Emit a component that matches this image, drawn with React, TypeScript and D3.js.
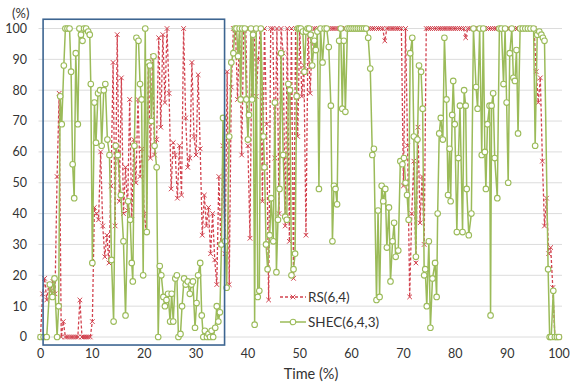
import React, { useEffect, useRef } from 'react';
import * as d3 from 'd3';

const xTicks = [0, 10, 20, 30, 40, 50, 60, 70, 80, 90, 100];
const yTicks = [0, 10, 20, 30, 40, 50, 60, 70, 80, 90, 100];

// RS(6,4): sampled every 0.4 % of time
const rsStep = 0.4;
const rsValues = [
  0, 14, 19, 12, 17, 15, 18, 14, 52, 79,
  0, 5, 0, 0, 0, 0, 0, 0, 0, 12,
  0, 0, 0, 0, 0, 5, 42, 40, 38, 60,
  36, 26, 33, 24, 49, 89, 36, 98, 44, 84,
  40, 55, 41, 77, 38, 64, 50, 77, 52, 61,
  40, 34, 89, 58, 91, 59, 64, 97, 68, 98,
  76, 100, 79, 48, 63, 59, 45, 62, 46, 100,
  71, 55, 58, 89, 65, 59, 85, 61, 33, 46,
  36, 42, 27, 40, 25, 17, 52, 30, 62, 27,
  86, 17, 81, 100, 100, 77, 100, 59, 100, 100,
  62, 32, 100, 100, 78, 90, 100, 44, 100, 69,
  12, 100, 100, 58, 100, 40, 100, 92, 36, 100,
  31, 100, 19, 100, 65, 100, 78, 88, 33, 100,
  79, 96, 100, 100, 100, 100, 100, 100, 100, 100,
  100, 100, 100, 100, 100, 100, 100, 100, 100, 100,
  100, 100, 100, 100, 100, 100, 100, 100, 100, 100,
  100, 100, 100, 100, 100, 100, 96, 100, 100, 100,
  100, 100, 100, 100, 100, 49, 100, 62, 13, 40,
  57, 24, 68, 37, 52, 30, 100, 100, 100, 100,
  100, 100, 100, 100, 100, 100, 100, 100, 100, 100,
  100, 100, 100, 100, 100, 97, 100, 100, 100, 100,
  100, 100, 100, 100, 100, 100, 100, 100, 100, 100,
  100, 100, 100, 100, 100, 100, 100, 100, 100, 100,
  100, 100, 100, 100, 100, 100, 100, 100, 100, 86,
  76, 84, 57, 36, 45, 27, 29, 16, 0, 0,
  0,
];

// SHEC(6,4,3): [time %, value %]
const shecPoints: [number, number][] = [
  [0, 0], [0.6, 0], [1.2, 0], [1.8, 17], [2.3, 13], [2.7, 19], [3.2, 0], [3.5, 10], [3.8, 78], [4.1, 69],
  [4.5, 88], [4.8, 100], [5.2, 100], [5.6, 100], [5.9, 86], [6.2, 56], [6.5, 45], [6.8, 92], [7.2, 69], [7.5, 100],
  [7.8, 98], [8.1, 96], [8.4, 100], [8.8, 100], [9.2, 99], [9.5, 98], [9.7, 82], [10.0, 24], [10.4, 76], [10.7, 63],
  [11.1, 79], [11.5, 80], [11.8, 62], [12.2, 80], [12.5, 82], [12.9, 64], [13.3, 59], [13.7, 25], [14.1, 5], [14.5, 62],
  [14.9, 59], [15.5, 46], [16.0, 31], [16.4, 7], [16.9, 44], [17.3, 38], [17.6, 24], [17.8, 18], [18.1, 62], [18.5, 97],
  [18.9, 96], [19.2, 82], [19.5, 77], [19.8, 20], [20.2, 100], [20.5, 34], [20.8, 89], [21.1, 88], [21.4, 70], [21.8, 91],
  [22.0, 62], [22.4, 55], [22.7, 0], [23.0, 23], [23.3, 20], [23.7, 13], [24.0, 10], [24.3, 12], [24.6, 14], [25.0, 5],
  [25.3, 14], [25.6, 5], [26.0, 19], [26.3, 20], [26.6, 0], [27.0, 1], [27.3, 10], [27.7, 19], [28.0, 17], [28.4, 18],
  [28.8, 14], [29.1, 17], [29.4, 18], [29.8, 3], [30.1, 11], [30.4, 20], [30.8, 24], [31.1, 7], [31.4, 0], [31.7, 2],
  [32.1, 0], [32.4, 1], [32.7, 0], [33.0, 2], [33.3, 0], [33.7, 3], [34.0, 10], [34.3, 5], [34.6, 8], [34.9, 30],
  [35.2, 71], [35.6, 31], [35.9, 16], [36.4, 65], [36.8, 89], [37.2, 92], [37.5, 100], [37.8, 100], [38.1, 91], [38.4, 100],
  [38.6, 77], [38.9, 100], [39.4, 100], [39.7, 77], [40.0, 64], [40.2, 72], [40.6, 100], [40.8, 77], [41.0, 98], [41.3, 4],
  [41.6, 100], [41.9, 13], [42.2, 15], [42.5, 100], [43.0, 65], [43.2, 55], [43.5, 30], [43.8, 22], [44.2, 33], [44.5, 45],
  [44.9, 31], [45.2, 76], [45.5, 21], [45.8, 38], [46.1, 48], [46.4, 92], [46.8, 59], [47.2, 39], [47.5, 38], [47.8, 82],
  [48.1, 80], [48.4, 20], [48.8, 22], [49.1, 27], [49.4, 78], [49.6, 100], [49.9, 100], [50.2, 100], [50.6, 99], [50.9, 86],
  [51.2, 99], [51.5, 100], [51.8, 100], [52.1, 98], [52.4, 88], [52.8, 96], [53.1, 93], [53.4, 99], [53.7, 48], [54.0, 100],
  [54.4, 89], [54.8, 100], [55.2, 100], [55.6, 94], [56.0, 75], [56.3, 31], [56.6, 49], [56.9, 48], [57.2, 43], [57.6, 96],
  [57.9, 100], [58.2, 74], [58.5, 96], [58.8, 73], [59.2, 100], [59.6, 100], [60.0, 100], [60.4, 100], [60.8, 100], [61.2, 100],
  [61.6, 100], [62.0, 100], [62.4, 100], [62.8, 100], [63.2, 97], [63.6, 87], [64.0, 59], [64.3, 61], [64.8, 12], [65.1, 41],
  [65.4, 13], [65.8, 49], [66.1, 44], [66.5, 48], [66.8, 29], [67.2, 42], [67.5, 18], [67.9, 31], [68.2, 37], [68.5, 26],
  [69.0, 28], [69.4, 57], [69.8, 56], [70.1, 58], [70.4, 50], [70.7, 46], [71.0, 38], [71.3, 92], [71.7, 97], [72.0, 65],
  [72.4, 26], [72.7, 64], [73.0, 88], [73.4, 86], [73.7, 74], [74.0, 20], [74.2, 22], [74.5, 10], [74.9, 31], [75.2, 3],
  [75.6, 19], [76.1, 24], [76.4, 13], [76.6, 40], [76.9, 66], [77.2, 71], [77.6, 64], [77.9, 97], [78.3, 77], [78.6, 46],
  [78.9, 61], [79.1, 44], [79.4, 72], [79.6, 83], [79.9, 69], [80.3, 34], [80.6, 58], [80.9, 75], [81.4, 34], [81.7, 80],
  [82.0, 75], [82.2, 48], [82.6, 33], [83.1, 40], [83.5, 100], [84.0, 81], [84.3, 74], [84.7, 100], [85.1, 59], [85.4, 100],
  [85.7, 60], [85.9, 48], [86.2, 69], [86.6, 75], [86.8, 7], [87.0, 75], [87.3, 79], [87.6, 58], [88.1, 45], [88.5, 100],
  [88.9, 100], [89.3, 82], [89.6, 100], [89.9, 76], [90.2, 50], [90.5, 92], [90.9, 100], [91.2, 84], [91.5, 83], [91.8, 93],
  [92.1, 66], [92.5, 100], [93.0, 100], [93.5, 100], [94.0, 100], [94.5, 100], [95.1, 100], [95.4, 62], [95.8, 98], [96.2, 99],
  [96.6, 98], [96.9, 97], [97.2, 96], [97.9, 22], [98.2, 0], [98.5, 0], [98.9, 15], [99.2, 0], [99.6, 0], [100, 0],
];

const legendLabels = ['RS(6,4)', 'SHEC(6,4,3)'];

const RED = '#d2434f';
const GREEN = '#9bbb59';
const FONT = 'Lato, "Open Sans", sans-serif';

const App = () => {
  const chartRef = useRef<SVGSVGElement>(null);

  useEffect(() => {
    const svg = d3.select(chartRef.current);
    svg.selectAll('*').remove();

    const x = d3.scaleLinear().domain([0, 100]).range([40.5, 559]);
    const y = d3.scaleLinear().domain([0, 100]).range([337, 28.5]);

    // gridlines
    svg.append('g')
      .selectAll('line')
      .data(yTicks)
      .join('line')
      .attr('x1', x(0) - 2)
      .attr('x2', x(100) + 3)
      .attr('y1', d => y(d))
      .attr('y2', d => y(d))
      .attr('stroke', '#dcdcdc')
      .attr('stroke-width', 1);

    // y labels
    svg.append('g')
      .selectAll('text')
      .data(yTicks)
      .join('text')
      .attr('x', 27)
      .attr('y', d => y(d))
      .attr('dy', '0.35em')
      .attr('text-anchor', 'end')
      .attr('font-family', FONT)
      .attr('font-size', 12.5)
      .attr('fill', '#333')
      .text(d => d);

    svg.append('text')
      .attr('x', 12)
      .attr('y', 18)
      .attr('font-family', FONT)
      .attr('font-size', 13)
      .attr('fill', '#333')
      .text('(%)');

    // x labels
    svg.append('g')
      .selectAll('text')
      .data(xTicks)
      .join('text')
      .attr('x', d => x(d))
      .attr('y', 354)
      .attr('dy', '0.35em')
      .attr('text-anchor', 'middle')
      .attr('font-family', FONT)
      .attr('font-size', 12.5)
      .attr('fill', '#333')
      .text(d => d);

    svg.append('text')
      .attr('x', 311)
      .attr('y', 374)
      .attr('dy', '0.35em')
      .attr('text-anchor', 'middle')
      .attr('font-family', FONT)
      .attr('font-size', 14.5)
      .attr('fill', '#333')
      .text('Time (%)');

    const line = d3.line<[number, number]>()
      .x(d => x(d[0]))
      .y(d => y(d[1]));

    const cross = 'M-2.3,-2.3L2.3,2.3M-2.3,2.3L2.3,-2.3';

    // RS(6,4)
    const rsData: [number, number][] = rsValues.map((v, i) => [i * rsStep, v]);
    svg.append('path')
      .datum(rsData)
      .attr('fill', 'none')
      .attr('stroke', RED)
      .attr('stroke-width', 1.3)
      .attr('stroke-dasharray', '3,2')
      .attr('d', line);
    svg.append('g')
      .selectAll('path')
      .data(rsData)
      .join('path')
      .attr('transform', d => `translate(${x(d[0])},${y(d[1])})`)
      .attr('d', cross)
      .attr('stroke', RED)
      .attr('stroke-width', 1);

    // SHEC(6,4,3)
    svg.append('path')
      .datum(shecPoints)
      .attr('fill', 'none')
      .attr('stroke', GREEN)
      .attr('stroke-width', 1.5)
      .attr('d', line);
    svg.append('g')
      .selectAll('circle')
      .data(shecPoints)
      .join('circle')
      .attr('cx', d => x(d[0]))
      .attr('cy', d => y(d[1]))
      .attr('r', 2.8)
      .attr('fill', '#fff')
      .attr('stroke', GREEN)
      .attr('stroke-width', 1.1);

    // highlighted region
    svg.append('rect')
      .attr('x', x(0.5))
      .attr('y', y(103))
      .attr('width', x(35.5) - x(0.5))
      .attr('height', y(-2.6) - y(103))
      .attr('fill', 'none')
      .attr('stroke', '#3d6591')
      .attr('stroke-width', 1.6);

    // legend
    const legend = svg.append('g').attr('transform', 'translate(280,297)');
    legendLabels.forEach((label, i) => {
      const g = legend.append('g').attr('transform', `translate(0,${i * 25})`);
      if (i === 0) {
        g.append('line')
          .attr('x1', 0).attr('x2', 26).attr('y1', 0).attr('y2', 0)
          .attr('stroke', RED).attr('stroke-width', 1.3).attr('stroke-dasharray', '3,2');
        g.append('path')
          .attr('transform', 'translate(13,0)')
          .attr('d', cross)
          .attr('stroke', RED)
          .attr('stroke-width', 1);
      } else {
        g.append('line')
          .attr('x1', 0).attr('x2', 26).attr('y1', 0).attr('y2', 0)
          .attr('stroke', GREEN).attr('stroke-width', 1.5);
        g.append('circle')
          .attr('cx', 13).attr('cy', 0).attr('r', 2.8)
          .attr('fill', '#fff').attr('stroke', GREEN).attr('stroke-width', 1.1);
      }
      g.append('text')
        .attr('x', 28)
        .attr('y', 0)
        .attr('dy', '0.35em')
        .attr('font-family', FONT)
        .attr('font-size', 13.5)
        .attr('fill', '#333')
        .text(label);
    });

    return () => {
      svg.selectAll('*').remove();
    };
  }, []);

  return (
    <svg
      ref={chartRef}
      width={570}
      height={383}
      style={{ position: 'absolute', left: 0, top: 0, background: '#fff' }}
    />
  );
};

export default App;
